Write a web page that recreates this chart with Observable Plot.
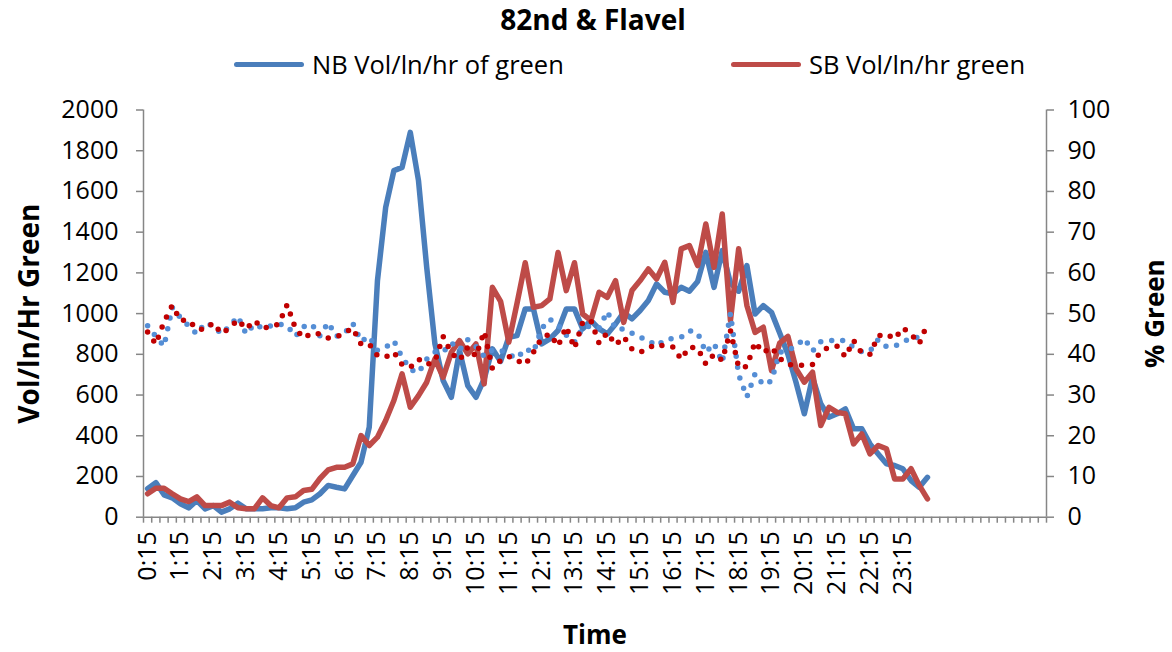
<!DOCTYPE html>
<html>
<head>
<meta charset="utf-8">
<script src="https://cdn.jsdelivr.net/npm/d3@7"></script>
<script src="https://cdn.jsdelivr.net/npm/@observablehq/plot@0.6"></script>
<style>
  body { margin: 0; background: #fff; font-family: "Open Sans", sans-serif; color: #000; }
  #wrap { position: relative; width: 1172px; height: 652px; overflow: hidden; }
  #head { position: relative; height: 90px; }
  #title { position: absolute; left: 593px; top: 1px; transform: translateX(-50%); font-weight: bold; font-size: 28px; white-space: nowrap; line-height: 36px; }
  .item { position: absolute; top: 47px; display: flex; align-items: center; font-size: 25.5px; line-height: 34px; white-space: nowrap; }
  .sw { width: 70px; height: 5px; border-radius: 3px; margin-right: 8px; }
</style>
</head>
<body>
<div id="wrap">
  <div id="head">
    <div id="title"></div>
    <div id="legend"></div>
  </div>
  <div id="chart"></div>
</div>
<script>
// ---------- data ----------
const chartTitle = "82nd & Flavel";
const seriesNames = ["NB Vol/ln/hr of green", "SB Vol/ln/hr green"];
const leftAxisTitle = "Vol/ln/Hr Green";
const rightAxisTitle = "% Green";
const xAxisTitle = "Time";

const times = ["0:15","0:30","0:45","1:00","1:15","1:30","1:45","2:00","2:15","2:30","2:45","3:00",
  "3:15","3:30","3:45","4:00","4:15","4:30","4:45","5:00","5:15","5:30","5:45","6:00",
  "6:15","6:30","6:45","7:00","7:15","7:30","7:45","8:00","8:15","8:30","8:45","9:00",
  "9:15","9:30","9:45","10:00","10:15","10:30","10:45","11:00","11:15","11:30","11:45","12:00",
  "12:15","12:30","12:45","13:00","13:15","13:30","13:45","14:00","14:15","14:30","14:45","15:00",
  "15:15","15:30","15:45","16:00","16:15","16:30","16:45","17:00","17:15","17:30","17:45","18:00",
  "18:15","18:30","18:45","19:00","19:15","19:30","19:45","20:00","20:15","20:30","20:45","21:00",
  "21:15","21:30","21:45","22:00","22:15","22:30","22:45","23:00","23:15","23:30","23:45","0:00"];
const emptyCategories = 14;   // blank categories after the data on the category axis

const nbVol = [140,170,110,95,66,46,82,41,57,25,41,69,
  41,41,41,46,46,41,46,74,85,115,156,147,
  139,205,270,442,1162,1522,1702,1718,1890,1653,1227,851,
  671,589,818,646,589,679,827,765,884,892,1023,1023,
  851,876,917,1023,1023,925,966,925,900,949,1006,974,
  1015,1064,1146,1105,1097,1129,1110,1158,1301,1129,1310,1150,
  1110,1236,998,1039,1006,905,800,660,508,687,557,491,
  508,532,434,434,360,311,262,254,238,180,147,196];

const sbVol = [115,142,142,115,90,77,100,57,57,57,74,46,
  41,41,95,57,46,95,100,131,137,190,232,245,
  245,262,401,352,393,475,573,704,540,597,663,778,
  687,810,867,802,851,655,1129,1060,860,1050,1250,1031,
  1039,1072,1300,1113,1250,998,966,1105,1080,1162,957,1113,
  1162,1219,1170,1252,1055,1318,1334,1236,1440,1227,1489,966,
  1318,1040,908,933,720,855,888,728,663,712,450,540,
  515,508,360,409,311,352,336,188,188,238,156,90];

const nbPct = [47,44.4,42,51.5,49,47,45,47.7,47,45,47,49.3,
  45,47.4,46.5,47,47.4,47,44.4,46.8,47.4,44.5,47.8,44.4,
  45.2,47.6,43.2,44.4,41,41.7,43.3,39.3,36.3,35.5,38.8,40.6,
  40.6,42.8,41.1,43.6,41.9,39.5,41.1,41,40,39,41.4,40.5,
  46.3,48.6,47.2,44.7,43,46.5,47,46.5,50.5,46.2,46.2,45.2,
  44.2,43.4,42.1,43.5,43.9,44.2,45.8,45.3,40.5,42.7,38,50,
  35,29.5,35.2,32.5,33.5,40.5,41,42,43.9,40.8,43.1,43.3,
  43.5,43.3,41.7,40.6,40.8,43.6,41.9,42,43,44,44.2,44];

const sbPct = [45.5,42.5,48,52,48.3,48.4,46.2,46.1,47.7,45.1,46.5,48.5,
  46.2,48.3,46.5,46.7,47.5,52.2,46.4,44,45.2,45,44,44.2,
  45.3,46.4,42.5,42.5,39.7,39.3,40.5,37.5,36.8,38.8,37.5,38.3,
  44.4,40.3,38.5,41.8,39.5,45.6,36.5,38.5,39.5,38.5,37.5,40.5,
  44,45,42,46.8,41.5,47.9,48.3,42.7,45.3,42.3,44.3,41.3,
  40.5,41.6,42.5,42,41.8,38.8,41.8,41.5,37.6,40,38.5,45.8,
  36.8,37,43,40.4,41.7,39,37.5,37.3,37.3,37.5,40.8,41.7,
  42,39.4,43.4,40.3,40,44.5,45,43.8,46.5,45,42.6,47.5];

const volTicks = [0,200,400,600,800,1000,1200,1400,1600,1800,2000];
const pctTicks = [0,10,20,30,40,50,60,70,80,90,100];
const volMax = 2000, pctMax = 100;

// ---------- styles ----------
const NB_LINE = "#4A7EBB", SB_LINE = "#BE4B48";
const NB_DOT = "#558ED5", SB_DOT = "#C00000";
const AXIS = "#868686";

// ---------- header ----------
document.getElementById("title").textContent = chartTitle;
const legend = document.getElementById("legend");
[[seriesNames[0], NB_LINE, 234], [seriesNames[1], SB_LINE, 731]].forEach(([name, col, left]) => {
  const it = document.createElement("div");
  it.className = "item";
  it.style.left = left + "px";
  const sw = document.createElement("div");
  sw.className = "sw";
  sw.style.background = col;
  const tx = document.createElement("span");
  tx.textContent = name;
  it.append(sw, tx);
  legend.append(it);
});

// ---------- chart ----------
const k = volMax / pctMax; // secondary axis mapping
const rows = times.map((t, i) => ({i, t, nb: nbVol[i], sb: sbVol[i], nbp: nbPct[i] * k, sbp: sbPct[i] * k}));
const nCat = times.length + emptyCategories;
const xDomain = [-0.5, nCat - 0.5];
const boundaries = d3.range(-0.5, nCat, 1);
const labelIdx = d3.range(0, times.length, 4);

const chart = Plot.plot({
  width: 1172,
  height: 562,
  marginLeft: 143,
  marginRight: 126,
  marginTop: 19.5,
  marginBottom: 135.3,
  style: {fontFamily: "Open Sans, sans-serif", fontSize: "25px", background: "#fff", color: "#000"},
  x: {type: "linear", domain: xDomain},
  y: {domain: [0, volMax]},
  marks: [
    Plot.ruleY([0], {stroke: AXIS, strokeWidth: 1.5}),
    Plot.ruleX(xDomain, {stroke: AXIS, strokeWidth: 1.5}),
    Plot.axisY({anchor: "left", ticks: volTicks, tickFormat: d => String(d), tickSize: 7, tickPadding: 18, stroke: AXIS, strokeWidth: 1.5, label: null, fontSize: 25}),
    Plot.axisY({anchor: "right", ticks: pctTicks.map(p => p * k), tickFormat: d => String(d / k), tickSize: 7, tickPadding: 14, stroke: AXIS, strokeWidth: 1.5, label: null, fontSize: 25}),
    Plot.axisX({ticks: boundaries, tickSize: 6, tickFormat: () => "", stroke: AXIS, strokeWidth: 1.5, label: null}),
    Plot.axisX({ticks: labelIdx, tickSize: 0, tickPadding: 14, tickRotate: -90, tickFormat: i => times[i], label: null, fontSize: 25}),
    Plot.line(rows, {x: "i", y: "nb", stroke: NB_LINE, strokeWidth: 5.5, strokeLinejoin: "round", strokeLinecap: "round"}),
    Plot.line(rows, {x: "i", y: "sb", stroke: SB_LINE, strokeWidth: 5.5, strokeLinejoin: "round", strokeLinecap: "round"}),
    Plot.line(rows, {x: "i", y: "nbp", stroke: NB_DOT, strokeWidth: 5.5, strokeDasharray: "0 11", strokeLinecap: "round", strokeLinejoin: "round"}),
    Plot.line(rows, {x: "i", y: "sbp", stroke: SB_DOT, strokeWidth: 5.5, strokeDasharray: "0 11", strokeLinecap: "round", strokeLinejoin: "round"}),
    Plot.text([leftAxisTitle], {frameAnchor: "left", dx: -113, rotate: -90, textAnchor: "middle", fontWeight: "bold", fontSize: 28}),
    Plot.text([rightAxisTitle], {frameAnchor: "right", dx: 109, rotate: -90, textAnchor: "middle", fontWeight: "bold", fontSize: 26}),
    Plot.text([xAxisTitle], {frameAnchor: "bottom", dy: 127, fontWeight: "bold", fontSize: 26})
  ]
});
document.getElementById("chart").append(chart);
</script>
</body>
</html>
